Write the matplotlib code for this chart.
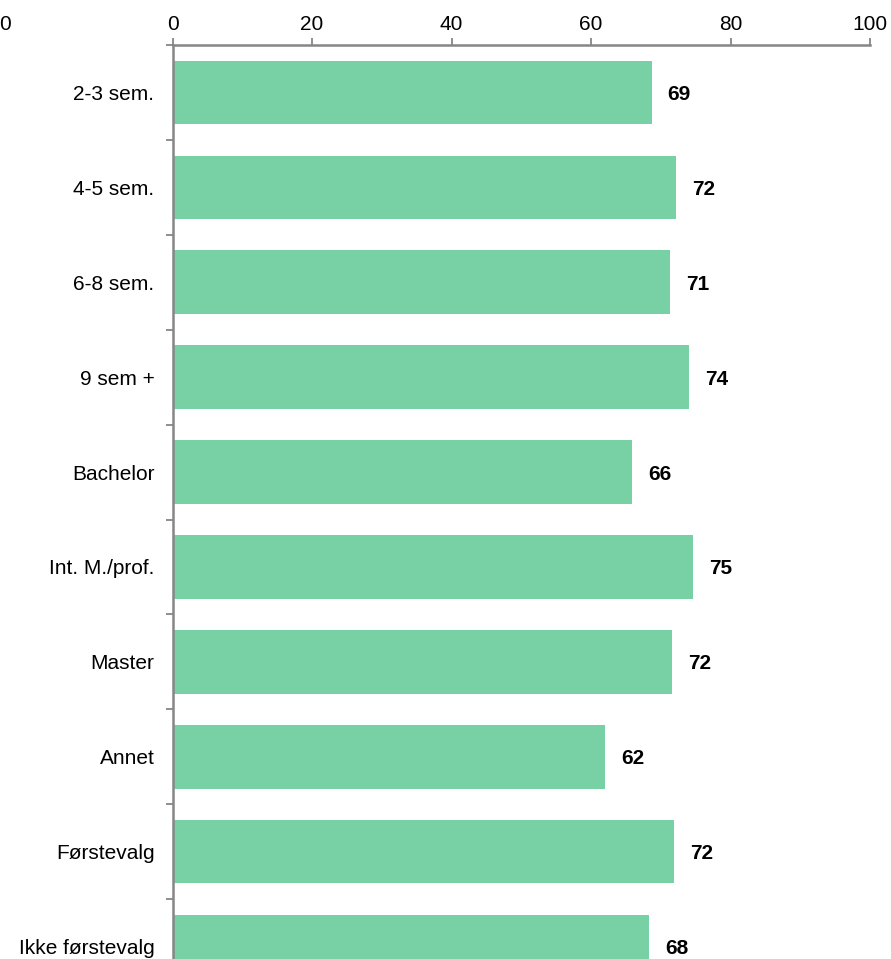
import numpy as np
import matplotlib
matplotlib.use('Agg')
import matplotlib.pyplot as plt

plt.rcParams['font.family'] = ['Liberation Sans', 'DejaVu Sans']

# data
categories = ['2-3 sem.', '4-5 sem.', '6-8 sem.', '9 sem +', 'Bachelor',
              'Int. M./prof.', 'Master', 'Annet', 'Førstevalg', 'Ikke førstevalg']
values = [68.7, 72.2, 71.3, 74.0, 65.9, 74.6, 71.6, 62.0, 71.9, 68.3]
labels = ['69', '72', '71', '74', '66', '75', '72', '62', '72', '68']
x_ticks = [0, 20, 40, 60, 80, 100]

W, H = 891, 959
fig = plt.figure(figsize=(W / 100, H / 100), dpi=100)

# axes spans x 172.5..870 px, y 45..994 px (bottom part cropped off)
left, right, top, bottom = 172.5, 870, 45, 994
ax = fig.add_axes([left / W, (H - bottom) / H, (right - left) / W, (bottom - top) / H])

bar_color = '#77d1a4'
spine_color = '#868686'
fs = 15

y = np.arange(len(categories))
ax.barh(y, values, height=0.67, color=bar_color, edgecolor='none')

ax.set_xlim(0, 100)
ax.set_ylim(len(categories) - 0.5, -0.5)

ax.xaxis.tick_top()
ax.set_xticks(x_ticks)
ax.set_xticklabels([str(t) for t in x_ticks], fontsize=fs)
ax.tick_params(axis='x', direction='out', length=5, width=1.3, color=spine_color, pad=3)

ax.set_yticks(y)
ax.set_yticklabels(categories, fontsize=fs, va='center_baseline')
ax.set_yticks(np.arange(len(categories) + 1) - 0.5, minor=True)
ax.tick_params(axis='y', which='major', length=0, pad=13)
ax.tick_params(axis='y', which='minor', direction='out', length=5, width=1.3, color=spine_color)

for side in ['right', 'bottom']:
    ax.spines[side].set_visible(False)
for side in ['top', 'left']:
    ax.spines[side].set_color(spine_color)
    ax.spines[side].set_linewidth(1.8)

for yi, v, lab in zip(y, values, labels):
    ax.text(v + 2.3, yi, lab, va='center_baseline', ha='left', fontsize=fs, fontweight='bold')

# stray cropped label at the far top-left of the reference
fig.text(5 / W, 1 - 23 / H, '0', fontsize=fs, ha='center', va='center_baseline')

fig.savefig('out.png', dpi=100)
